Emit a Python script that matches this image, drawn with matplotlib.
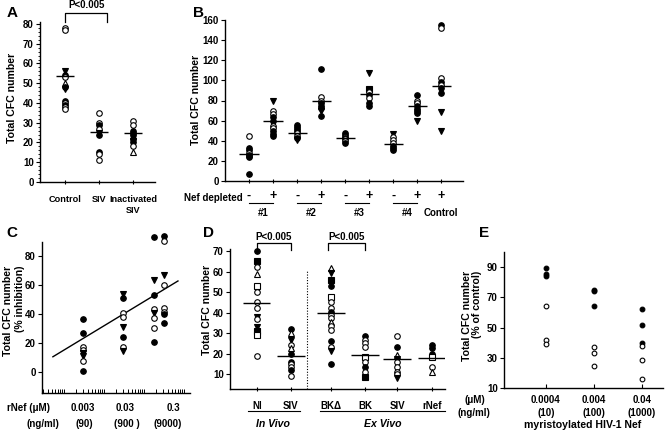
import matplotlib
matplotlib.use('Agg')
import matplotlib.pyplot as plt
import matplotlib.transforms as mtrans
from matplotlib.ticker import MultipleLocator, NullFormatter, LogLocator
from matplotlib.lines import Line2D

plt.rcParams['font.family'] = ['Liberation Sans', 'DejaVu Sans']
plt.rcParams['font.weight'] = 'bold'
plt.rcParams['axes.linewidth'] = 1.0

# ---------------- DATA ----------------
# Panel A
a_categories = ['Control', 'SIV', 'Inactivated\nSIV']
a_control = [78, 77, 56, 54, 53, 50, 48, 47, 41, 40, 39, 38, 37]
a_siv = [35, 30, 29, 27, 25, 24, 15, 14, 11]
a_inact = [31, 29, 26, 25, 24, 22, 21, 20, 18, 15]
a_marks = ['OOvoO^ovoOoOO', 'OOoOvooOO', 'OOoooovoO^']
a_means = [53.5, 25.5, 25]

# Panel B
b_ticklabels = ['-', '+', '-', '+', '-', '+', '-', '+', '+']
b_groups = ['#1', '#2', '#3', '#4']
b_values = [
    [45, 33, 31, 28, 26, 25, 24, 7],
    [80, 70, 67, 64, 60, 55, 53, 50, 47, 45],
    [56, 54, 52, 50, 48, 45, 43, 41],
    [111, 83, 80, 78, 75, 73, 70, 65],
    [48, 46, 44, 43, 42, 40, 38],
    [107, 91, 88, 85, 82, 78, 75],
    [47, 44, 41, 38, 35, 33, 31],
    [85, 80, 78, 75, 72, 70, 68, 60],
    [155, 152, 102, 98, 95, 92, 87, 69, 50],
]
b_marks = ['OooOoOoo', 'vOOooOOooo', 'ooooOOov', 'oOOooovo', 'ooOoOOo',
           'vsOoOoo', 'vOOOooo', 'oOOoooov', 'oOOoOoovv']
b_means = [27, 60, 48, 80, 43, 86, 37, 75, 94]

# Panel C (rNef dose, µM; two columns at the top dose)
c_doses = [0.003, 0.03, 0.3]
c_dose_labels = ['0.003', '0.03', '0.3']
c_ng_labels = ['(90)', '(900 )', '(9000)']
c_col_x = [0.003, 0.03, 0.18, 0.32]
c_values = [
    [37, 27, 17.5, 15, 13, 11, 7.5, 0.5],
    [54, 51, 41, 38, 31, 24.5, 17.5, 14.5],
    [93.5, 63.5, 53.5, 43.5, 40.5, 37.5, 30.5, 20.5],
    [94, 90.5, 67, 60.5, 44.5, 41.5, 40, 34],
]
c_marks = ['ooOOvvOo', 'voOOvoOv', 'ovoOvOOo', 'oOvOOOoo']
c_fit_x = [0.00053, 0.71]
c_fit_y = [10.5, 63]

# Panel D
d_categories = ['NI', 'SIV', 'BK\u0394', 'BK', 'SIV', 'rNef']
d_values = [
    [70, 65, 62, 59, 53, 50, 45, 42, 38, 37, 33, 31, 29, 19],
    [32, 30, 26.5, 24, 22.5, 20, 16, 15, 13.5, 12, 9],
    [61.5, 59.5, 56, 53, 47.5, 45, 42, 40.5, 39, 37.5, 35.5, 33.5, 31.5, 26, 23, 21, 15],
    [28.5, 26.5, 25, 23, 18.5, 16, 13.5, 11, 8.5],
    [28.5, 23, 19.5, 17.5, 16, 13.5, 11, 10, 8],
    [24, 22.5, 20, 18.5, 13.5, 11],
]
d_marks = ['osO^SOOOvOvsSO', 'o^vO^ooOOoO', '^vsoSOOoOO^OOoOvo',
           'oOOOSOoOs', 'Oo^vOOOOv', 'oooSO^']
d_means = [44.8, 19, 40, 19.3, 17.5, 18]

# Panel E
e_um_labels = ['0.0004', '0.004', '0.04']
e_ng_labels = ['(10)', '(100)', '(1000)']
e_values = [
    [89.5, 85.5, 84, 64.5, 41.5, 39],
    [75, 74, 64, 37, 33, 24.5],
    [62, 52, 39.5, 37.5, 28.5, 16],
]
e_marks = ['oooOOO', 'oooOOO', 'oooOOO']

# ---------------- FIGURE ----------------
W, H = 666, 437
fig = plt.figure(figsize=(W / 100, H / 100), dpi=100)
FS = 7.0
LFS = 7.6


def axes_px(l, r, b, t):
    ax = fig.add_axes([l / W, 1 - b / H, (r - l) / W, (b - t) / H])
    ax.spines['top'].set_visible(False)
    ax.spines['right'].set_visible(False)
    ax.patch.set_alpha(0)
    ax.tick_params(labelsize=FS, width=0.8, length=3, colors='black')
    ax.tick_params(axis='y', pad=1.5)
    return ax


def fy(ypx):
    return 1 - ypx / H


def fx(xpx):
    return xpx / W


STY = {
    'o': dict(marker='o', mfc='black'),
    'O': dict(marker='o', mfc='white'),
    'v': dict(marker='v', mfc='black'),
    'V': dict(marker='v', mfc='white'),
    '^': dict(marker='^', mfc='white'),
    'A': dict(marker='^', mfc='black'),
    's': dict(marker='s', mfc='black'),
    'S': dict(marker='s', mfc='white'),
}


def points(ax, x, vals, codes, ms=4.0):
    for v, c in zip(vals, codes):
        ax.plot([x], [v], ls='none', mec='black', mew=0.8, ms=ms, zorder=3,
                clip_on=False, **STY[c])


def bracket(ax, x0, x1, ylo, yhi, txt, ytxt):
    ax.plot([x0, x0, x1, x1], [ylo, yhi, yhi, ylo], color='black', lw=0.9,
            clip_on=False)
    ax.text((x0 + x1) / 2, ytxt, txt, ha='center', va='center', fontsize=FS)


def panel_letter(x, y, s):
    fig.text(fx(x), fy(y), s, fontsize=11, fontweight='bold', ha='center',
             va='center')


# ---------- Panel A ----------
axA = axes_px(40, 155, 182, 22)
axA.set_ylim(0, 81)
axA.set_xlim(0.26, 3.65)
for i, (vals, codes) in enumerate(zip([a_control, a_siv, a_inact], a_marks)):
    points(axA, i + 1, vals, codes)
    axA.hlines(a_means[i], i + 1 - 0.26, i + 1 + 0.26, color='black', lw=1, zorder=4)
axA.set_yticks(range(0, 81, 10))
axA.yaxis.set_minor_locator(MultipleLocator(2))
axA.tick_params(axis='y', which='minor', length=1.5, width=0.6)
axA.set_xticks([1, 2, 3])
axA.set_xticklabels(a_categories, fontsize=6.6)
axA.tick_params(axis='x', direction='inout', length=3, pad=8)
bracket(axA, 1, 2.24, 81, 85.6, 'P<0.005', 89.5)
fig.text(fx(12), fy(98), 'Total CFC number', rotation=90, ha='center',
         va='center', fontsize=LFS)
panel_letter(12, 13, 'A')

# ---------- Panel B ----------
axB = axes_px(225, 463, 181, 20)
axB.set_ylim(0, 160)
axB.set_xlim(0, 9.9)
for i, (vals, codes) in enumerate(zip(b_values, b_marks)):
    points(axB, i + 1, vals, codes)
    axB.hlines(b_means[i], i + 1 - 0.4, i + 1 + 0.4, color='black', lw=1, zorder=4)
axB.set_yticks(range(0, 161, 20))
axB.set_xticks(range(1, 10))
axB.set_xticklabels(b_ticklabels, fontsize=9)
axB.tick_params(axis='x', direction='inout', length=3, pad=5)
trB = mtrans.blended_transform_factory(axB.transData, fig.transFigure)
fig.text(fx(243), fy(198), 'Nef depleted', ha='right', va='center', fontsize=FS)
for k, g in enumerate(b_groups):
    x0, x1 = 2 * k + 1, 2 * k + 2
    fig.add_artist(Line2D([x0, x1], [fy(203), fy(203)], transform=trB,
                          color='black', lw=0.8))
    fig.text(x0 + 0.6, fy(213), g, transform=trB, ha='center', va='center',
             fontsize=FS)
fig.text(9, fy(213), 'Control', transform=trB, ha='center', va='center',
         fontsize=FS)
fig.text(fx(196), fy(100), 'Total CFC number', rotation=90, ha='center',
         va='center', fontsize=LFS)
panel_letter(198, 13, 'B')

# ---------- Panel C ----------
axC = axes_px(42, 190, 393, 242)
axC.set_xscale('log')
axC.set_xlim(0.000283, 1.42)
axC.set_ylim(-14.6, 90)
for x, vals, codes in zip(c_col_x, c_values, c_marks):
    points(axC, x, vals, codes)
axC.plot(c_fit_x, c_fit_y, color='black', lw=1)
axC.set_yticks(range(0, 81, 20))
axC.xaxis.set_major_locator(LogLocator(base=10))
axC.xaxis.set_minor_locator(LogLocator(base=10, subs=range(2, 10)))
axC.xaxis.set_major_formatter(NullFormatter())
axC.xaxis.set_minor_formatter(NullFormatter())
axC.tick_params(axis='x', which='both', direction='in', length=3, width=0.7)
fig.text(fx(29), fy(408), 'rNef (\u03bcM)', ha='center', va='center', fontsize=FS)
fig.text(fx(43), fy(424), '(ng/ml)', ha='center', va='center', fontsize=FS)
for xp, s1, s2, xp2 in zip([83, 125, 173], c_dose_labels, c_ng_labels, [84, 127, 168]):
    fig.text(fx(xp), fy(408), s1, ha='center', va='center', fontsize=FS)
    fig.text(fx(xp2), fy(424), s2, ha='center', va='center', fontsize=FS)
fig.text(fx(14), fy(311), 'Total CFC number\n(% inhibition)', rotation=90,
         ha='center', va='center', multialignment='right', fontsize=LFS,
         linespacing=1.15)
panel_letter(12, 233, 'C')

# ---------- Panel D ----------
axD = axes_px(230, 445, 389, 249)
d_pos = [1, 2, 3.18, 4.18, 5.12, 6.15]
axD.set_xlim(0.21, 6.53)
axD.set_ylim(2.7, 71)
for x, vals, codes, m in zip(d_pos, d_values, d_marks, d_means):
    points(axD, x, vals, codes)
    axD.hlines(m, x - 0.4, x + 0.4, color='black', lw=1, zorder=4)
axD.axvline(2.47, ymin=0, ymax=0.84, color='black', lw=0.8, ls=(0, (1, 1.5)))
axD.set_yticks(range(10, 71, 10))
axD.set_xticks(d_pos)
axD.set_xticklabels(d_categories, fontsize=FS)
axD.tick_params(axis='x', direction='inout', length=3, pad=7)
bracket(axD, 1, 2, 70.7, 73.8, 'P<0.005', 76.8)
bracket(axD, 3.1, 4.18, 70.7, 73.8, 'P<0.005', 76.8)
trD = mtrans.blended_transform_factory(axD.transData, fig.transFigure)
fig.add_artist(Line2D([0.74, 2.26], [fy(411), fy(411)], transform=trD,
                      color='black', lw=0.8))
fig.add_artist(Line2D([2.85, 6.53], [fy(411), fy(411)], transform=trD,
                      color='black', lw=0.8))
fig.text(1.47, fy(424), 'In Vivo', transform=trD, ha='center', va='center',
         fontsize=LFS, style='italic')
fig.text(4.7, fy(424), 'Ex Vivo', transform=trD, ha='center', va='center',
         fontsize=LFS, style='italic')
fig.text(fx(207), fy(310), 'Total CFC number', rotation=90, ha='center',
         va='center', fontsize=LFS)
panel_letter(209, 233, 'D')

# ---------- Panel E ----------
axE = axes_px(504, 663, 388, 252)
e_pos = [1, 2, 3]
axE.set_xlim(0.125, 3.44)
axE.set_ylim(10, 100)
for x, vals, codes in zip(e_pos, e_values, e_marks):
    points(axE, x, vals, codes, ms=3.4)
axE.set_yticks(range(10, 91, 20))
axE.set_xticks(e_pos)
axE.xaxis.set_major_formatter(NullFormatter())
axE.tick_params(axis='x', direction='in', length=3)
trE = mtrans.blended_transform_factory(axE.transData, fig.transFigure)
fig.text(fx(475), fy(400), '(\u03bcM)', ha='center', va='center', fontsize=FS)
fig.text(fx(474), fy(413), '(ng/ml)', ha='center', va='center', fontsize=FS)
for x, s1, s2 in zip(e_pos, e_um_labels, e_ng_labels):
    fig.text(x, fy(400), s1, transform=trE, ha='center', va='center', fontsize=FS)
    fig.text(x, fy(413), s2, transform=trE, ha='center', va='center', fontsize=FS)
fig.text(fx(583), fy(425), 'myristoylated HIV-1 Nef', ha='center', va='center',
         fontsize=LFS)
fig.text(fx(472), fy(316), 'Total CFC number\n(% of control)', rotation=90,
         ha='center', va='center', multialignment='right', fontsize=LFS,
         linespacing=1.1)
panel_letter(484, 233, 'E')

fig.savefig('out.png', dpi=100)
